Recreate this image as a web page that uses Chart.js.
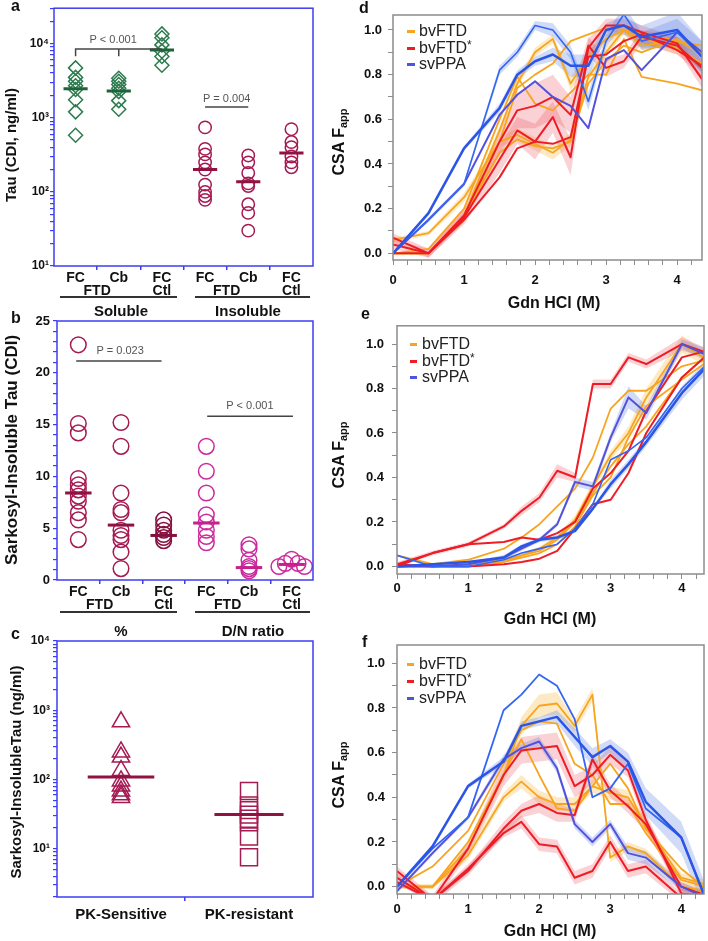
<!DOCTYPE html>
<html><head><meta charset="utf-8">
<script src="https://cdn.jsdelivr.net/npm/chart.js@4.4.1/dist/chart.umd.min.js"></script>
<style>
body{margin:0;width:708px;height:941px;position:relative;background:#fff;font-family:"Liberation Sans",Arial,sans-serif;overflow:hidden}
canvas{position:absolute}
.t{position:absolute;white-space:nowrap;color:#111;line-height:1}
.c{transform:translate(-50%,-50%)}
.r{transform:translate(-50%,-50%) rotate(-90deg)}
.b{font-weight:bold}
.v{transform:translateY(-50%)}
.hl{position:absolute;height:1.5px;background:#333}
.lg{position:absolute;height:2.5px}
sub{font-size:11px;vertical-align:-3px}
sup{font-size:12px;vertical-align:4px;line-height:0}
</style></head><body>
<canvas id="ca" width="330" height="300" style="left:0px;top:0px"></canvas>
<canvas id="cb" width="330" height="310" style="left:0px;top:305px"></canvas>
<canvas id="cc" width="330" height="326" style="left:0px;top:615px"></canvas>
<canvas id="cd" width="378" height="310" style="left:330px;top:0px"></canvas>
<canvas id="ce" width="378" height="310" style="left:330px;top:310px"></canvas>
<canvas id="cf" width="378" height="311" style="left:330px;top:630px"></canvas>

<div class="t b" style="left:11px;top:-2px;font-size:16px">a</div>
<div class="t b" style="left:11px;top:310px;font-size:16px">b</div>
<div class="t b" style="left:11px;top:626px;font-size:16px">c</div>
<div class="t b" style="left:359px;top:0px;font-size:16px">d</div>
<div class="t b" style="left:361px;top:306px;font-size:16px">e</div>
<div class="t b" style="left:362px;top:634px;font-size:16px">f</div>

<div class="t r b" style="left:10px;top:145px;font-size:15px">Tau (CDI, ng/ml)</div>
<div class="t r b" style="left:11px;top:450px;font-size:17px">Sarkosyl-Insoluble Tau (CDI)</div>
<div class="t r b" style="left:15px;top:772px;font-size:15px">Sarkosyl-InsolubleTau (ng/ml)</div>

<div class="hl" style="left:60px;top:296px;width:117px"></div>
<div class="hl" style="left:195px;top:296px;width:115px"></div>
<div class="t c b" style="left:121px;top:310px;font-size:15px">Soluble</div>
<div class="t c b" style="left:248px;top:310px;font-size:15px">Insoluble</div>
<div class="hl" style="left:60px;top:611px;width:117px"></div>
<div class="hl" style="left:195px;top:611px;width:115px"></div>
<div class="t c b" style="left:121px;top:630px;font-size:15px">%</div>
<div class="t c b" style="left:253px;top:630px;font-size:15px">D/N ratio</div>

<div class="t r b" style="left:340px;top:142px;font-size:16px">CSA F<sub>app</sub></div>
<div class="t r b" style="left:340px;top:455px;font-size:16px">CSA F<sub>app</sub></div>
<div class="t r b" style="left:340px;top:775px;font-size:16px">CSA F<sub>app</sub></div>
<div class="t c b" style="left:554px;top:303px;font-size:16px">Gdn HCl (M)</div>
<div class="t c b" style="left:550px;top:619px;font-size:16px">Gdn HCl (M)</div>
<div class="t c b" style="left:550px;top:931px;font-size:16px">Gdn HCl (M)</div>

<!-- legends -->
<div class="lg" style="left:407px;top:30px;width:8px;background:#f7a520"></div>
<div class="t v" style="left:419px;top:31px;font-size:16px;color:#222">bvFTD</div>
<div class="lg" style="left:407px;top:47px;width:8px;background:#ee1d25"></div>
<div class="t v" style="left:419px;top:48px;font-size:16px;color:#222">bvFTD<sup>*</sup></div>
<div class="lg" style="left:407px;top:63px;width:8px;background:#4a55e0"></div>
<div class="t v" style="left:419px;top:64px;font-size:16px;color:#222">svPPA</div>

<div class="lg" style="left:410px;top:343px;width:7px;background:#f7a520"></div>
<div class="t v" style="left:422px;top:344px;font-size:16px;color:#222">bvFTD</div>
<div class="lg" style="left:410px;top:360px;width:7px;background:#ee1d25"></div>
<div class="t v" style="left:422px;top:361px;font-size:16px;color:#222">bvFTD<sup>*</sup></div>
<div class="lg" style="left:410px;top:376px;width:7px;background:#4a55e0"></div>
<div class="t v" style="left:422px;top:377px;font-size:16px;color:#222">svPPA</div>

<div class="lg" style="left:407px;top:663px;width:7px;background:#f7a520"></div>
<div class="t v" style="left:419px;top:664px;font-size:16px;color:#222">bvFTD</div>
<div class="lg" style="left:407px;top:680px;width:7px;background:#ee1d25"></div>
<div class="t v" style="left:419px;top:681px;font-size:16px;color:#222">bvFTD<sup>*</sup></div>
<div class="lg" style="left:407px;top:697px;width:7px;background:#4a55e0"></div>
<div class="t v" style="left:419px;top:698px;font-size:16px;color:#222">svPPA</div>

<script>
// ================= DATA =================
// Panel a (log scale, ng/ml)
const aCats = [0.5, 1.5, 2.5, 3.5, 4.5, 5.5];
const aTickVals = [0.5, 1, 1.5, 2, 2.5, 3, 3.5, 4, 4.5, 5, 5.5];
const aTickLabels = ['FC', ['', 'FTD'], 'Cb', '', ['FC', 'Ctl'], '', 'FC', ['', 'FTD'], 'Cb', '', ['FC', 'Ctl']];
const aSolFC  = [4700, 3500, 3100, 2700, 2400, 1750, 1200, 580];
const aSolCb  = [3400, 3100, 2800, 2500, 2250, 1700, 1300];
const aSolCtl = [13500, 12000, 9600, 7900, 6700, 5100];
const aInsFC  = [740, 380, 320, 250, 200, 125, 100, 88, 78];
const aInsCb  = [310, 250, 180, 130, 120, 68, 52, 30];
const aInsCtl = [700, 470, 400, 300, 250, 215];
const aMedians = [2450, 2300, 8200, 200, 137, 335];

// Panel b (linear)
const bPctFC  = [22.7, 15.1, 14.2, 9.8, 9.2, 8.7, 8.1, 7.6, 6.5, 5.8, 3.9];
const bPctCb  = [15.2, 12.9, 8.4, 6.8, 6.5, 4.8, 4.3, 3.9, 2.7, 1.1];
const bPctCtl = [5.8, 5.3, 4.8, 4.4, 4.1, 3.8];
const bDnFC   = [12.9, 10.5, 8.4, 6.3, 5.6, 4.8, 4.2, 3.6];
const bDnCb   = [3.4, 3.0, 1.9, 1.3, 1.1, 0.9];
const bDnCtl  = [1.3, 1.6, 2.0, 1.6, 1.3];
const bDnCtlJitter = [-0.3, -0.15, 0, 0.15, 0.3];
const bMedians = [8.4, 5.3, 4.3, 5.5, 1.2, 1.5];

// Panel c (log scale)
const cCats = [0.5, 1.5];
const cTickLabels = ['PK-Sensitive', '', 'PK-resistant'];
const cSensitive = [680, 250, 210, 135, 95, 80, 68, 60, 55];
const cResistant = [68, 42, 36, 31, 27, 24, 15, 7.5];
const cMedians = [108, 31];

// Panels d-f: Gdn HCl concentrations (M)
const gdn = [0, 0.5, 1, 1.5, 1.75, 2, 2.25, 2.5, 2.75, 3, 3.25, 3.5, 4, 4.35];
const rightXTicks = [0,0.2,0.4,0.6,0.8,1,1.2,1.4,1.6,1.8,2,2.2,2.4,2.6,2.8,3,3.2,3.4,3.6,3.8,4,4.2];
const rightYTicks = [0,0.1,0.2,0.3,0.4,0.5,0.6,0.7,0.8,0.9,1.0];

// d
const dO1 = [0.00,0.00,0.17,0.55,0.76,0.90,0.96,0.76,0.88,0.96,1.00,0.93,0.95,0.90];
const dO2 = [0.00,0.00,0.15,0.50,0.74,0.80,0.85,0.95,0.98,1.01,1.00,0.99,0.95,0.93];
const dO3 = [0.00,0.02,0.20,0.60,0.79,0.67,0.64,0.72,0.80,0.80,0.96,0.79,0.76,0.73];
const dO4 = [0.06,0.09,0.25,0.50,0.53,0.49,0.45,0.51,0.79,0.90,1.00,0.96,0.92,0.85];
const dO5 = [0.00,0.00,0.17,0.45,0.51,0.48,0.47,0.50,0.76,0.86,0.93,0.90,0.96,0.89];
const dR1 = [0.07,0.00,0.17,0.50,0.64,0.66,0.70,0.62,0.93,0.83,0.86,0.97,0.93,0.83];
const dR2 = [0.04,0.00,0.16,0.42,0.55,0.50,0.61,0.43,0.92,1.02,1.02,0.99,0.94,0.78];
const dR3 = [0.00,0.00,0.15,0.34,0.47,0.50,0.49,0.52,0.88,0.89,0.95,0.98,0.91,0.84];
const dB1 = [0.00,0.15,0.31,0.82,0.90,1.02,1.00,0.90,0.68,0.95,1.07,0.95,0.99,0.88];
const dB2 = [0.00,0.18,0.47,0.65,0.80,0.86,0.89,0.84,0.84,1.00,1.02,0.97,1.00,0.88];
const dB3 = [0.00,0.15,0.31,0.62,0.71,0.77,0.70,0.66,0.56,0.87,0.91,0.82,0.99,0.90];
const dO1e = [0,0,0.01,0.02,0.02,0.02,0.02,0.03,0.03,0.02,0.02,0.02,0.02,0.02];
const dO4e = [0.01,0.01,0.02,0.02,0.03,0.03,0.03,0.03,0.02,0.02,0.02,0.02,0.03,0.03];
const dR1e = [0.02,0.02,0.03,0.05,0.08,0.10,0.10,0.08,0.04,0.04,0.03,0.03,0.04,0.04];
const dR2e = [0.02,0.02,0.03,0.06,0.06,0.08,0.07,0.08,0.04,0.03,0.03,0.03,0.03,0.04];
const dB1e = [0,0.01,0.01,0.02,0.02,0.02,0.03,0.03,0.04,0.03,0.04,0.04,0.06,0.07];
const dB2e = [0,0.01,0.01,0.02,0.02,0.02,0.03,0.05,0.05,0.03,0.04,0.05,0.08,0.07];

// e
const eR1 = [0.01,0.06,0.10,0.18,0.25,0.31,0.43,0.40,0.82,0.82,0.94,0.91,1.00,0.96];
const eR2 = [0.00,0.06,0.10,0.11,0.13,0.12,0.15,0.20,0.35,0.42,0.52,0.70,0.94,0.97];
const eR3 = [0.01,0.00,0.00,0.01,0.02,0.035,0.07,0.17,0.28,0.30,0.42,0.60,0.85,0.95];
const eO1 = [0.05,0.01,0.03,0.08,0.13,0.19,0.27,0.35,0.49,0.71,0.79,0.79,0.90,0.93];
const eO2 = [0.00,0.01,0.02,0.03,0.05,0.08,0.13,0.21,0.36,0.50,0.60,0.76,1.00,0.93];
const eO3 = [0.00,0.00,0.01,0.02,0.05,0.07,0.12,0.20,0.33,0.45,0.55,0.63,0.85,0.95];
const eO4 = [0.00,0.00,0.00,0.02,0.04,0.06,0.10,0.18,0.32,0.40,0.58,0.72,0.84,0.92];
const eB1 = [0.00,0.00,0.01,0.04,0.08,0.12,0.19,0.38,0.36,0.58,0.76,0.69,1.00,0.95];
const eB2 = [0.05,0.00,0.00,0.03,0.06,0.08,0.10,0.17,0.28,0.48,0.52,0.58,0.80,0.91];
const eB3 = [0.00,0.01,0.02,0.04,0.09,0.12,0.13,0.16,0.26,0.37,0.46,0.56,0.78,0.90];
const eR1e = [0.01,0.01,0.01,0.01,0.02,0.02,0.03,0.02,0.02,0.02,0.02,0.02,0.03,0.02];
const eO2e = [0,0,0,0.01,0.01,0.01,0.01,0.02,0.02,0.02,0.03,0.04,0.04,0.03];
const eB1e = [0,0,0,0.01,0.01,0.01,0.01,0.02,0.02,0.02,0.05,0.03,0.02,0.03];
const eB3e = [0,0,0,0.01,0.01,0.01,0.01,0.01,0.01,0.02,0.02,0.02,0.03,0.03];

// f
const fB1 = [0.00,0.17,0.31,0.79,0.86,0.95,0.90,0.75,0.40,0.44,0.55,0.35,0.22,-0.06];
const fB2 = [0.00,0.18,0.45,0.56,0.72,0.74,0.76,0.67,0.58,0.63,0.56,0.38,0.22,-0.06];
const fB3 = [-0.02,0.15,0.31,0.57,0.62,0.65,0.53,0.28,0.20,0.28,0.15,0.13,0.00,-0.05];
const fO1 = [0.00,0.00,0.17,0.50,0.72,0.81,0.82,0.72,0.86,0.13,0.18,0.15,0.00,-0.02];
const fO2 = [0.00,0.09,0.25,0.55,0.70,0.74,0.73,0.55,0.50,0.37,0.37,0.24,0.03,0.00];
const fO3 = [0.00,0.00,0.14,0.40,0.47,0.40,0.37,0.37,0.45,0.42,0.40,0.27,0.04,0.01];
const fO4 = [0.00,0.00,0.20,0.50,0.66,0.50,0.35,0.34,0.45,0.55,0.44,0.26,0.08,-0.01];
const fR1 = [0.07,-0.06,0.17,0.50,0.61,0.62,0.63,0.45,0.50,0.59,0.52,0.30,-0.03,-0.05];
const fR2 = [0.04,-0.06,0.07,0.26,0.34,0.37,0.33,0.32,0.57,0.43,0.36,0.28,0.00,-0.04];
const fR3 = [0.02,-0.06,0.08,0.24,0.29,0.19,0.18,0.04,0.07,0.20,0.07,0.09,-0.05,-0.05];
const fO1e = [0.01,0.01,0.02,0.03,0.04,0.05,0.05,0.03,0.03,0.02,0.02,0.02,0.02,0.02];
const fO3e = [0.01,0.01,0.02,0.02,0.03,0.03,0.03,0.03,0.03,0.03,0.03,0.03,0.02,0.02];
const fR1e = [0.02,0.02,0.03,0.05,0.06,0.06,0.06,0.05,0.04,0.04,0.03,0.03,0.02,0.02];
const fR2e = [0.02,0.02,0.02,0.03,0.03,0.04,0.04,0.03,0.03,0.03,0.03,0.03,0.02,0.02];
const fR3e = [0.01,0.01,0.02,0.02,0.03,0.03,0.03,0.03,0.03,0.03,0.03,0.03,0.02,0.02];
const fB2e = [0.01,0.01,0.01,0.02,0.02,0.02,0.03,0.04,0.04,0.03,0.04,0.06,0.07,0.06];
const fB3e = [0.01,0.01,0.01,0.02,0.02,0.02,0.02,0.02,0.02,0.02,0.03,0.03,0.02,0.02];

// ================= STYLE / HELPERS =================
const FONT = '"Liberation Sans", Arial, sans-serif';
const BLUE_AX = '#3c3cf2';
const GREY_AX = '#8c8c8c';
const COL = {o:'#f7a520', r:'#ee1d25', b1:'#3366f2', b2:'#2a55e6', b3:'#5452dd'};
const BAND = {o:'rgba(250,195,90,0.35)', r:'rgba(238,90,100,0.28)', b:'rgba(90,125,225,0.28)'};
const SUP = {1:'\u00b9', 2:'\u00b2', 3:'\u00b3', 4:'\u2074'};

const frames = {ca:BLUE_AX, cb:BLUE_AX, cc:BLUE_AX, cd:GREY_AX, ce:GREY_AX, cf:GREY_AX};
const annots = {
  ca: {lines:[[[0.5,6760],[0.5,8480],[2.5,8480]], [[1.5,6760],[1.5,8480]], [[3.5,1390],[4.5,1390]]],
       texts:[['P < 0.001',1.37,11200], ['P = 0.004',4.0,1770]]},
  cb: {lines:[[[0.45,21.15],[2.45,21.15]], [[3.52,15.8],[5.53,15.8]]],
       texts:[['P = 0.023',1.48,22.1], ['P < 0.001',4.52,16.8]]}
};

const framePlugin = {
  id:'frameBox',
  afterDatasetsDraw(chart){
    const col = frames[chart.canvas.id]; if(!col) return;
    const a = chart.chartArea, ctx = chart.ctx;
    ctx.save(); ctx.strokeStyle = col; ctx.lineWidth = 1.5;
    ctx.strokeRect(a.left, a.top, a.right-a.left, a.bottom-a.top); ctx.restore();
  }
};
const annotPlugin = {
  id:'pAnnot',
  afterDatasetsDraw(chart){
    const o = annots[chart.canvas.id]; if(!o) return;
    const ctx = chart.ctx, xs = chart.scales.x, ys = chart.scales.y;
    ctx.save(); ctx.strokeStyle = '#454545'; ctx.lineWidth = 1.5;
    o.lines.forEach(path => { ctx.beginPath();
      path.forEach((p,i) => { const X = xs.getPixelForValue(p[0]), Y = ys.getPixelForValue(p[1]); if(i) ctx.lineTo(X,Y); else ctx.moveTo(X,Y); });
      ctx.stroke(); });
    ctx.fillStyle = '#555'; ctx.font = '11px ' + FONT; ctx.textAlign='center'; ctx.textBaseline='middle';
    o.texts.forEach(t => ctx.fillText(t[0], xs.getPixelForValue(t[1]), ys.getPixelForValue(t[2])));
    ctx.restore();
  }
};
Chart.register(framePlugin, annotPlugin);

function logTicks(lo, hi){ const out=[]; for(let d=0; d<6; d++){ for(let m=1;m<10;m++){ const v=m*Math.pow(10,d); if(v>=lo-1e-9 && v<=hi+1e-9) out.push(v);} } return out; }
function logLabel(v){ const l=Math.log10(v); return Math.abs(l-Math.round(l))<1e-9 ? '10'+SUP[Math.round(l)] : ''; }

function scat(xc, vals, style, color, r, offs){
  return {data: vals.map((v,i)=>({x: xc + (offs ? offs[i] : 0), y: v})), pointStyle: style, pointRadius: r,
    pointBorderColor: color, pointBackgroundColor: 'rgba(0,0,0,0)', pointBorderWidth: 1.5, showLine:false};
}
function med(xc, m, hw, color){
  return {data:[{x:xc-hw,y:m},{x:xc+hw,y:m}], borderColor:color, borderWidth:3, pointRadius:0, showLine:true};
}

function makeLeft(id, datasets, L){
  new Chart(document.getElementById(id), {
    type:'scatter',
    data:{datasets},
    options:{
      responsive:false, animation:false, events:[],
      layout:{autoPadding:false, padding:{left:0, top:L.top, right:17, bottom:0}},
      plugins:{legend:{display:false}, tooltip:{enabled:false}},
      scales:{
        x:{type:'linear', min:0, max:L.xmax,
           afterBuildTicks:s=>{ s.ticks = L.xTicks.map(v=>({value:v})); },
           afterFit:s=>{ s.height = L.xh; },
           border:{display:false},
           grid:{drawOnChartArea:false, tickLength:4, lineWidth:1.5,
                 color:c=> (c.tick && Number.isInteger(c.tick.value)) ? BLUE_AX : 'rgba(0,0,0,0)'},
           ticks:{autoSkip:false, maxRotation:0, minRotation:0, padding:L.xpad, color:'#111',
                  font:{family:FONT, size:L.xfs, weight:'bold', lineHeight:0.95},
                  callback:(v,i)=> L.xLabels[i]}},
        y: Object.assign({
           afterFit:s=>{ s.width = L.yw; },
           border:{display:false},
           grid:{drawOnChartArea:false, tickLength:4, lineWidth:1.2, color:BLUE_AX},
           ticks:{autoSkip:false, padding:L.ypad, color:'#111', font:{family:FONT, size:L.yfs, weight:'bold'}}
        }, L.y)
      }
    }
  });
}

// ---- Panel a
const GREEN = '#2e7b4f', GREEN_M = '#1e6439', CRIM = '#a61a52', CRIM_M = '#8f1243';
makeLeft('ca', [
  med(aCats[0], aMedians[0], 0.28, GREEN_M), med(aCats[1], aMedians[1], 0.28, GREEN_M), med(aCats[2], aMedians[2], 0.28, GREEN_M),
  med(aCats[3], aMedians[3], 0.28, CRIM_M), med(aCats[4], aMedians[4], 0.28, CRIM_M), med(aCats[5], aMedians[5], 0.28, CRIM_M),
  scat(aCats[0], aSolFC, 'rectRot', GREEN, 7), scat(aCats[1], aSolCb, 'rectRot', GREEN, 7), scat(aCats[2], aSolCtl, 'rectRot', GREEN, 7),
  scat(aCats[3], aInsFC, 'circle', CRIM, 6.2), scat(aCats[4], aInsCb, 'circle', CRIM, 6.2), scat(aCats[5], aInsCtl, 'circle', CRIM, 6.2)
], {top:6, xh:34, yw:54, xmax:6, xTicks:aTickVals, xLabels:aTickLabels, xpad:1, xfs:14, ypad:1, yfs:12,
    y:{type:'logarithmic', min:10, max:30000,
       afterBuildTicks:s=>{ s.ticks = logTicks(10,30000).map(v=>({value:v})); },
       ticks:{autoSkip:false, padding:1, color:'#111', font:{family:FONT, size:12, weight:'bold'}, callback:logLabel}}});

// ---- Panel b
const MAG = '#cc2a9e', MAG_M = '#c4228f', CRIM_D = '#85103f';
makeLeft('cb', [
  med(aCats[0], bMedians[0], 0.31, CRIM_M), med(aCats[1], bMedians[1], 0.31, CRIM_M), med(aCats[2], bMedians[2], 0.31, CRIM_D),
  med(aCats[3], bMedians[3], 0.31, MAG_M), med(aCats[4], bMedians[4], 0.31, MAG_M), med(aCats[5], bMedians[5], 0.31, MAG_M),
  scat(aCats[0], bPctFC, 'circle', CRIM, 7.8), scat(aCats[1], bPctCb, 'circle', CRIM, 7.8), scat(aCats[2], bPctCtl, 'circle', CRIM_D, 7.8),
  scat(aCats[3], bDnFC, 'circle', MAG, 7.8), scat(aCats[4], bDnCb, 'circle', MAG, 7.8), scat(aCats[5], bDnCtl, 'circle', MAG, 7.8, bDnCtlJitter)
], {top:16, xh:35, yw:57, xmax:6, xTicks:aTickVals, xLabels:aTickLabels, xpad:1, xfs:14, ypad:3, yfs:13,
    y:{type:'linear', min:0, max:25,
       afterBuildTicks:s=>{ s.ticks = [0,1,2,3,4,5,6,7,8,9,10,11,12,13,14,15,16,17,18,19,20,21,22,23,24,25].map(v=>({value:v})); },
       ticks:{autoSkip:false, padding:3, color:'#111', font:{family:FONT, size:13, weight:'bold'}, callback:v=> v%5===0 ? String(v) : ''}}});

// ---- Panel c
makeLeft('cc', [
  med(cCats[0], cMedians[0], 0.26, CRIM_M), med(cCats[1], cMedians[1], 0.27, CRIM_M),
  scat(cCats[0], cSensitive, 'triangle', CRIM, 10), scat(cCats[1], cResistant, 'rect', CRIM, 12)
], {top:26, xh:44, yw:57, xmax:2, xTicks:[0.5,1,1.5], xLabels:cTickLabels, xpad:7, xfs:15, ypad:3, yfs:12,
    y:{type:'logarithmic', min:2, max:10000,
       afterBuildTicks:s=>{ s.ticks = logTicks(2,10000).map(v=>({value:v})); },
       ticks:{autoSkip:false, padding:3, color:'#111', font:{family:FONT, size:12, weight:'bold'}, callback:logLabel}}});

// ---- Right panels
function lineDs(vals, color, w){
  return {data: gdn.map((x,i)=>({x, y:vals[i]})), borderColor:color, borderWidth:w, pointRadius:0, fill:false, tension:0, borderJoinStyle:'round'};
}
function bandDs(vals, err, color){
  return [
    {data: gdn.map((x,i)=>({x, y:vals[i]+err[i]})), borderWidth:0, pointRadius:0, fill:false, tension:0},
    {data: gdn.map((x,i)=>({x, y:vals[i]-err[i]})), borderWidth:0, pointRadius:0, fill:'-1', backgroundColor:color, tension:0}
  ];
}
function makeRight(id, series, L){
  const ds = [];
  series.forEach(s => { if (s[3]) ds.push(...bandDs(s[0], s[3], BAND[s[4]])); });
  series.forEach(s => ds.push(lineDs(s[0], COL[s[1]], s[2])));
  new Chart(document.getElementById(id), {
    type:'line',
    data:{datasets:ds},
    options:{
      responsive:false, animation:false, events:[],
      layout:{autoPadding:false, padding:{left:0, top:15, right:L.right, bottom:0}},
      plugins:{legend:{display:false}, tooltip:{enabled:false}, filler:{drawTime:'beforeDatasetsDraw'}},
      scales:{
        x:{type:'linear', min:0, max:L.xmax,
           afterBuildTicks:s=>{ s.ticks = rightXTicks.map(v=>({value:v})); },
           afterFit:s=>{ s.height = L.xh; },
           border:{display:false},
           grid:{drawOnChartArea:false, tickLength:5, color:GREY_AX, lineWidth:1},
           ticks:{autoSkip:false, maxRotation:0, padding:L.xpad, color:'#111', font:{family:FONT, size:13, weight:'bold'},
                  callback:v=> Math.abs(v-Math.round(v))<1e-6 ? String(Math.round(v)) : ''}},
        y:{type:'linear', min:L.ymin, max:L.ymax,
           afterBuildTicks:s=>{ s.ticks = rightYTicks.map(v=>({value:v})); },
           afterFit:s=>{ s.width = L.yw; },
           border:{display:false},
           grid:{drawOnChartArea:false, tickLength:5, color:GREY_AX, lineWidth:1},
           ticks:{autoSkip:false, padding:L.ypad, color:'#111', font:{family:FONT, size:13, weight:'bold'},
                  callback:v=> Math.abs(v*5-Math.round(v*5))<1e-6 ? v.toFixed(1) : ''}}
      }
    }
  });
}

makeRight('cd', [
  [dB2,'b2',2.5,dB2e,'b'], [dB1,'b1',1.6,dB1e,'b'], [dB3,'b3',2],
  [dR1,'r',2,dR1e,'r'], [dR2,'r',2,dR2e,'r'], [dR3,'r',2],
  [dO1,'o',1.8,dO1e,'o'], [dO2,'o',1.8], [dO3,'o',1.8], [dO4,'o',1.8,dO4e,'o'], [dO5,'o',1.8]
], {right:6, xh:50, yw:63, xmax:4.35, ymin:-0.03, ymax:1.067, xpad:8, ypad:6});

makeRight('ce', [
  [eB3,'b2',2.5,eB3e,'b'], [eB2,'b1',1.6], [eB1,'b3',2,eB1e,'b'],
  [eR1,'r',2,eR1e,'r'], [eR2,'r',2], [eR3,'r',2],
  [eO1,'o',1.8], [eO2,'o',1.8,eO2e,'o'], [eO3,'o',1.8], [eO4,'o',1.8]
], {right:4, xh:46, yw:67, xmax:4.31, ymin:-0.034, ymax:1.082, xpad:2, ypad:8});

makeRight('cf', [
  [fB2,'b2',2.5,fB2e,'b'], [fB1,'b1',1.8], [fB3,'b3',2,fB3e,'b'],
  [fR1,'r',2,fR1e,'r'], [fR2,'r',2,fR2e,'r'], [fR3,'r',2,fR3e,'r'],
  [fO1,'o',1.8,fO1e,'o'], [fO2,'o',1.8], [fO3,'o',1.8,fO3e,'o'], [fO4,'o',1.8]
], {right:4, xh:47, yw:67, xmax:4.32, ymin:-0.033, ymax:1.082, xpad:3, ypad:7});
</script>
</body></html>
